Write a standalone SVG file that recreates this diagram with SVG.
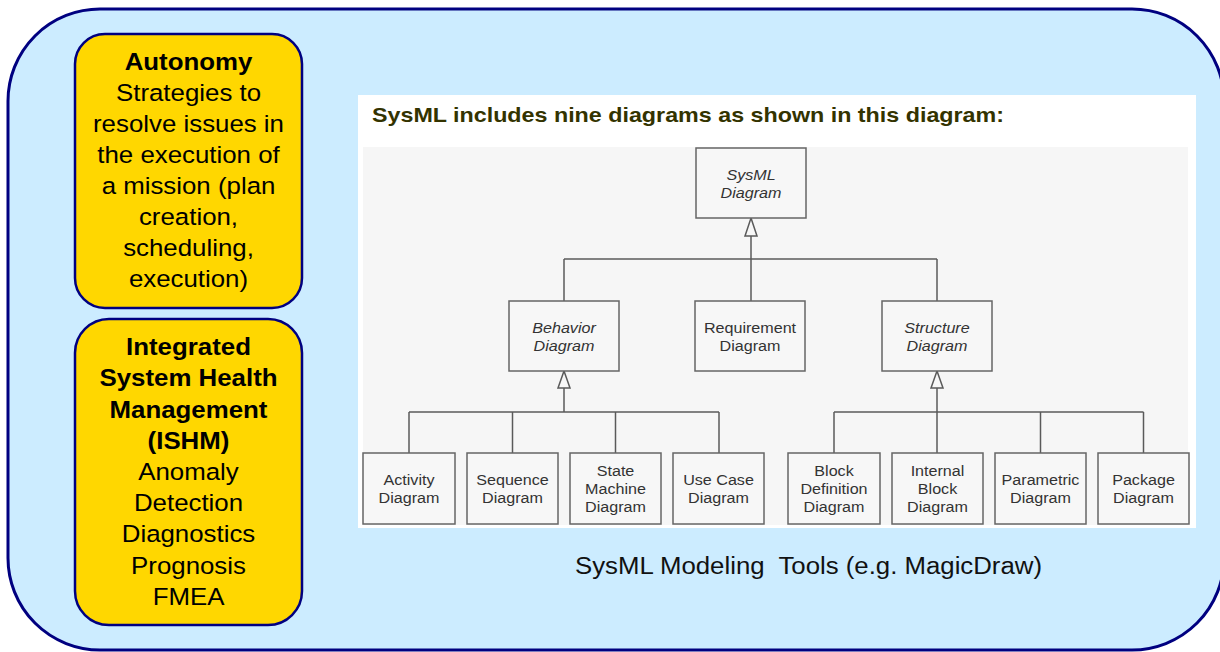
<svg xmlns="http://www.w3.org/2000/svg" width="1220" height="652" viewBox="0 0 1220 652">
<style>
.ybox{fill:#FFD700;stroke:#000080;stroke-width:2.5}
.yt{font-family:"Liberation Sans",Arial,sans-serif;font-size:23.5px;fill:#000;text-anchor:middle}
.yb{font-weight:bold}
.box{fill:#f7f7f7;stroke:#666;stroke-width:1.5}
.bt{font-family:"Liberation Sans",Arial,sans-serif;font-size:15.5px;fill:#333;text-anchor:middle}
.it{font-style:italic}
.ln{fill:none;stroke:#5a5a5a;stroke-width:1.5}
.tri{fill:#f7f7f7;stroke:#5a5a5a;stroke-width:1.5}
</style>
<rect id="background" x="8" y="9" width="1216" height="641" rx="92" ry="92" fill="#CCECFF" stroke="#000080" stroke-width="3"/>

<g id="autonomy">
<rect class="ybox" x="75" y="34" width="227" height="274" rx="30" ry="30"/>
<g transform="translate(188.5,0) scale(1.1,1)">
<text class="yt yb" x="0" y="70">Autonomy</text>
<text class="yt" x="0" y="101">Strategies to</text>
<text class="yt" x="0" y="132">resolve issues in</text>
<text class="yt" x="0" y="163">the execution of</text>
<text class="yt" x="0" y="194">a mission (plan</text>
<text class="yt" x="0" y="225.5">creation,</text>
<text class="yt" x="0" y="256.5">scheduling,</text>
<text class="yt" x="0" y="287.5">execution)</text>
</g>
</g>

<g id="ishm">
<rect class="ybox" x="75" y="319" width="227" height="306" rx="34" ry="34"/>
<g transform="translate(188.5,0) scale(1.1,1)">
<text class="yt yb" x="0" y="355">Integrated</text>
<text class="yt yb" x="0" y="386.5">System Health</text>
<text class="yt yb" x="0" y="418">Management</text>
<text class="yt yb" x="0" y="449">(ISHM)</text>
<text class="yt" x="0" y="480">Anomaly</text>
<text class="yt" x="0" y="511.5">Detection</text>
<text class="yt" x="0" y="542.5">Diagnostics</text>
<text class="yt" x="0" y="574">Prognosis</text>
<text class="yt" x="0" y="605.5">FMEA</text>
</g>
</g>

<g id="sysml-panel">
<rect x="358" y="95" width="838" height="433" fill="#ffffff"/>
<rect x="363" y="147" width="825" height="378" fill="#f6f6f6"/>
<text x="372" y="122" font-family="Liberation Sans,Arial,sans-serif" font-size="21" font-weight="bold" fill="#333300" textLength="632" lengthAdjust="spacingAndGlyphs">SysML includes nine diagrams as shown in this diagram:</text>
</g>

<g id="connectors">
<line class="ln" x1="751" y1="236" x2="751" y2="301"/>
<line class="ln" x1="564" y1="259" x2="937" y2="259"/>
<line class="ln" x1="564" y1="259" x2="564" y2="301"/>
<line class="ln" x1="937" y1="259" x2="937" y2="301"/>
<polygon class="tri" points="751,218 757,236 745,236"/>

<line class="ln" x1="564" y1="388" x2="564" y2="412"/>
<line class="ln" x1="409" y1="412" x2="719" y2="412"/>
<line class="ln" x1="409" y1="412" x2="409" y2="453"/>
<line class="ln" x1="512.5" y1="412" x2="512.5" y2="453"/>
<line class="ln" x1="615.5" y1="412" x2="615.5" y2="453"/>
<line class="ln" x1="719" y1="412" x2="719" y2="453"/>
<polygon class="tri" points="564,371 570,388 558,388"/>

<line class="ln" x1="937" y1="388" x2="937" y2="453"/>
<line class="ln" x1="834" y1="412" x2="1143.5" y2="412"/>
<line class="ln" x1="834" y1="412" x2="834" y2="453"/>
<line class="ln" x1="1040.5" y1="412" x2="1040.5" y2="453"/>
<line class="ln" x1="1143.5" y1="412" x2="1143.5" y2="453"/>
<polygon class="tri" points="937,371 943,388 931,388"/>
</g>

<g id="sysml-diagram">
<rect class="box" x="696" y="148" width="110" height="70"/>
<g transform="translate(751,0) scale(1.04,1)">
<text class="bt it" x="0" y="180">SysML</text>
<text class="bt it" x="0" y="198">Diagram</text>
</g>
</g>

<g id="behavior-diagram">
<rect class="box" x="509" y="301" width="110" height="70"/>
<g transform="translate(564,0) scale(1.04,1)">
<text class="bt it" x="0" y="333">Behavior</text>
<text class="bt it" x="0" y="351">Diagram</text>
</g>
</g>

<g id="requirement-diagram">
<rect class="box" x="695" y="301" width="110" height="70"/>
<g transform="translate(750,0) scale(1.04,1)">
<text class="bt" x="0" y="333">Requirement</text>
<text class="bt" x="0" y="351">Diagram</text>
</g>
</g>

<g id="structure-diagram">
<rect class="box" x="882" y="301" width="110" height="70"/>
<g transform="translate(937,0) scale(1.04,1)">
<text class="bt it" x="0" y="333">Structure</text>
<text class="bt it" x="0" y="351">Diagram</text>
</g>
</g>

<g id="activity-diagram">
<rect class="box" x="363" y="453" width="92" height="71"/>
<g transform="translate(409,0) scale(1.04,1)">
<text class="bt" x="0" y="485">Activity</text>
<text class="bt" x="0" y="503">Diagram</text>
</g>
</g>

<g id="sequence-diagram">
<rect class="box" x="467" y="453" width="91" height="71"/>
<g transform="translate(512.5,0) scale(1.04,1)">
<text class="bt" x="0" y="485">Sequence</text>
<text class="bt" x="0" y="503">Diagram</text>
</g>
</g>

<g id="state-machine-diagram">
<rect class="box" x="570" y="453" width="91" height="71"/>
<g transform="translate(615.5,0) scale(1.04,1)">
<text class="bt" x="0" y="476">State</text>
<text class="bt" x="0" y="494">Machine</text>
<text class="bt" x="0" y="512">Diagram</text>
</g>
</g>

<g id="use-case-diagram">
<rect class="box" x="673" y="453" width="91" height="71"/>
<g transform="translate(718.5,0) scale(1.04,1)">
<text class="bt" x="0" y="485">Use Case</text>
<text class="bt" x="0" y="503">Diagram</text>
</g>
</g>

<g id="block-definition-diagram">
<rect class="box" x="788" y="453" width="92" height="71"/>
<g transform="translate(834,0) scale(1.04,1)">
<text class="bt" x="0" y="476">Block</text>
<text class="bt" x="0" y="494">Definition</text>
<text class="bt" x="0" y="512">Diagram</text>
</g>
</g>

<g id="internal-block-diagram">
<rect class="box" x="892" y="453" width="91" height="71"/>
<g transform="translate(937.5,0) scale(1.04,1)">
<text class="bt" x="0" y="476">Internal</text>
<text class="bt" x="0" y="494">Block</text>
<text class="bt" x="0" y="512">Diagram</text>
</g>
</g>

<g id="parametric-diagram">
<rect class="box" x="995" y="453" width="91" height="71"/>
<g transform="translate(1040.5,0) scale(1.04,1)">
<text class="bt" x="0" y="485">Parametric</text>
<text class="bt" x="0" y="503">Diagram</text>
</g>
</g>

<g id="package-diagram">
<rect class="box" x="1098" y="453" width="91" height="71"/>
<g transform="translate(1143.5,0) scale(1.04,1)">
<text class="bt" x="0" y="485">Package</text>
<text class="bt" x="0" y="503">Diagram</text>
</g>
</g>

<g id="caption">
<text x="575" y="574" font-family="Liberation Sans,Arial,sans-serif" font-size="23" fill="#111" xml:space="preserve" textLength="467" lengthAdjust="spacingAndGlyphs">SysML Modeling  Tools (e.g. MagicDraw)</text>
</g>
</svg>
